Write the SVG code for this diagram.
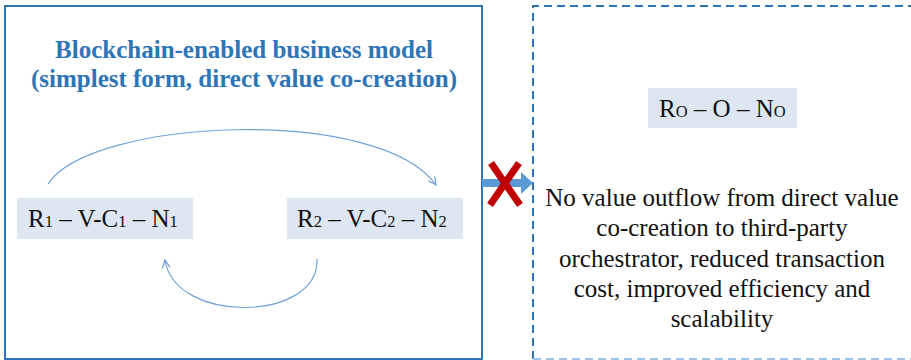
<svg xmlns="http://www.w3.org/2000/svg" width="911" height="360" viewBox="0 0 911 360">
<style>
.frame{fill:none;stroke:#2e75b6;stroke-width:2}
.dash{stroke-dasharray:8 5}
text{font-family:"Liberation Serif","Times New Roman",serif}
.title{font-weight:bold;font-size:25px;fill:#2e75b6;text-anchor:middle}
.node rect{fill:#dee7f1}
.lbl{font-size:25px;fill:#111}
.sub{font-size:16.5px}
.body{font-size:25px;fill:#111;text-anchor:middle}
.conn{fill:none;stroke:#6fa3d8;stroke-width:1.2}
</style>
<defs>
<marker id="open" viewBox="0 0 10 10" refX="9" refY="5" markerWidth="10" markerHeight="10" markerUnits="userSpaceOnUse" orient="auto">
<path d="M1,1 L9,5 L1,9" fill="none" stroke="#6fa3d8" stroke-width="1.2"/>
</marker>
</defs>
<rect fill="#fff" width="911" height="360"/>
<g id="left-frame">
<rect class="frame" x="5" y="6" width="477" height="353"/>
<text class="title" x="244" y="58">Blockchain-enabled business model</text>
<text class="title" x="244" y="87">(simplest form, direct value co-creation)</text>
</g>
<g id="right-frame">
<path class="frame dash" d="M533,359 V6 H912"/>
<path fill="none" stroke="#9dc3e6" stroke-width="2" stroke-dasharray="8 5" d="M533,359 H912"/>
</g>
<g id="node1" class="node">
<rect x="17" y="198" width="176" height="41"/>
<text class="lbl" x="28" y="227">R<tspan class="sub">1</tspan> – V-C<tspan class="sub">1</tspan> – N<tspan class="sub">1</tspan></text>
</g>
<g id="node2" class="node">
<rect x="287" y="198" width="176" height="41"/>
<text class="lbl" x="297" y="227">R<tspan class="sub">2</tspan> – V-C<tspan class="sub">2</tspan> – N<tspan class="sub">2</tspan></text>
</g>
<g id="node0" class="node">
<rect x="648" y="88" width="149" height="40"/>
<text class="lbl" x="659" y="117">R<tspan class="sub">O</tspan> – O – N<tspan class="sub">O</tspan></text>
</g>
<g id="outcome">
<text class="body" x="722" y="206">No value outflow from direct value</text>
<text class="body" x="722" y="236">co-creation to third-party</text>
<text class="body" x="722" y="267">orchestrator, reduced transaction</text>
<text class="body" x="722" y="297">cost, improved efficiency and</text>
<text class="body" x="722" y="327">scalability</text>
</g>
<g id="connectors">
<path class="conn" marker-end="url(#open)" d="M48,184 C90,118 380,105 436,185"/>
<path class="conn" marker-end="url(#open)" d="M317,259 C320,322 175,325 165,260"/>
<polygon fill="#5b9bd5" points="482,179 521,179 521,172 533,183 521,194 521,187 482,187"/>
<g id="blocked" stroke="#c00000" stroke-width="7" stroke-linecap="butt">
<line x1="491" y1="163" x2="520" y2="205"/>
<line x1="519" y1="163" x2="490" y2="205"/>
</g>
</g>
</svg>
